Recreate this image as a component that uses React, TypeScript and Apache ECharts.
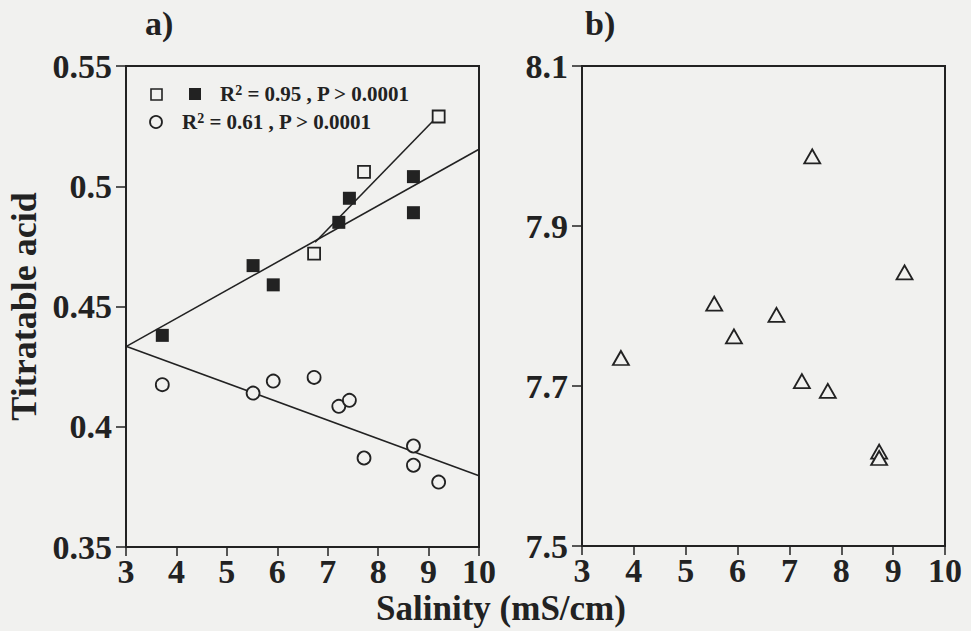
import React, { useEffect, useRef } from "react";
import * as echarts from "echarts";

// ---- data ----
const xFilledSq = [3.72, 5.52, 5.92, 7.22, 7.43, 8.7, 8.7];
const yFilledSq = [0.438, 0.467, 0.459, 0.485, 0.495, 0.504, 0.489];
const xOpenSq = [6.73, 7.72, 9.2];
const yOpenSq = [0.472, 0.506, 0.529];
const xCircle = [3.72, 5.52, 5.92, 6.73, 7.22, 7.43, 7.72, 8.7, 8.7, 9.2];
const yCircle = [0.4175, 0.414, 0.419, 0.4205, 0.4085, 0.411, 0.387, 0.392, 0.384, 0.377];
const xTri = [3.75, 5.55, 5.93, 6.75, 7.24, 7.44, 7.74, 8.73, 8.73, 9.22];
const yTri = [7.735, 7.803, 7.762, 7.789, 7.706, 7.987, 7.694, 7.618, 7.61, 7.842];

// fitted lines (endpoints)
const fitSquares = [[3, 0.4333], [10, 0.5154]];
const fitOpenSq = [[6.75, 0.4767], [9.15, 0.5285]];
const fitCircles = [[3, 0.4335], [10, 0.3796]];

const xTicks = { min: 3, max: 10, interval: 1 };
const yTicksA = { min: 0.35, max: 0.55, interval: 0.05 };
const yTicksB = { min: 7.5, max: 8.1, interval: 0.2 };

const legendLine1 = ["R", "2", " = 0.95 , P > 0.0001"];
const legendLine2 = ["R", "2", " = 0.61 , P > 0.0001"];
const xTitle = "Salinity (mS/cm)";
const yTitle = "Titratable acid";

const BG = "#f1f1ef";
const INK = "#222222";
const FONT = '"Liberation Serif", "Times New Roman", serif';

const zip = (xs: number[], ys: number[]) => xs.map((x, i) => [x, ys[i]]);

export default function App() {
  const ref = useRef<HTMLDivElement>(null);
  useEffect(() => {
    if (!ref.current) return;
    const chart = echarts.init(ref.current, undefined, { renderer: "svg" });
    const tickLabel = {
      fontFamily: FONT,
      fontWeight: "bold" as const,
      fontSize: 34,
      color: INK,
    };
    const mkX = (gridIndex: number) => ({
      type: "value" as const,
      gridIndex,
      ...xTicks,
      axisLine: { show: true, lineStyle: { color: INK, width: 2 } },
      axisTick: { show: true, length: 9, lineStyle: { color: INK, width: 1.5 } },
      axisLabel: { ...tickLabel, lineHeight: 26, margin: 11 },
      splitLine: { show: false },
    });
    const mkY = (gridIndex: number, t: any, digits: number) => ({
      type: "value" as const,
      gridIndex,
      ...t,
      axisLine: { show: true, lineStyle: { color: INK, width: 2 } },
      axisTick: { show: true, length: 10, lineStyle: { color: INK, width: 1.5 } },
      axisLabel: {
        ...tickLabel,
        lineHeight: 28,
        margin: 14,
        formatter: (v: number) => String(+v.toFixed(digits)),
      },
      splitLine: { show: false },
    });
    const lineStyle = { color: INK, width: 1.6 };
    const richSty = {
      b: { fontFamily: FONT, fontWeight: "bold", fontSize: 21, fill: INK },
      s: { fontFamily: FONT, fontWeight: "bold", fontSize: 14, fill: INK, verticalAlign: "top" },
    };
    const richText = (parts: string[]) => `{b|${parts[0]}}{s|${parts[1]}}{b|${parts[2]}}`;
    const openStyle = { color: BG, borderColor: INK, borderWidth: 1.8, opacity: 1 };

    chart.setOption({
      animation: false,
      backgroundColor: BG,
      grid: [
        { left: 126, top: 66, width: 353, height: 481, show: true, borderColor: INK, borderWidth: 2 },
        { left: 582, top: 66, width: 363, height: 480, show: true, borderColor: INK, borderWidth: 2 },
      ],
      xAxis: [mkX(0), mkX(1)],
      yAxis: [
        {
          ...mkY(0, yTicksA, 2),
          name: yTitle,
          nameLocation: "middle",
          nameGap: 84,
          nameRotate: 90,
          nameTextStyle: { fontFamily: FONT, fontWeight: "bold", fontSize: 36, color: INK },
        },
        mkY(1, yTicksB, 1),
      ],
      series: [
        { type: "line", xAxisIndex: 0, yAxisIndex: 0, data: fitSquares, symbol: "none", lineStyle, z: 1 },
        { type: "line", xAxisIndex: 0, yAxisIndex: 0, data: fitOpenSq, symbol: "none", lineStyle, z: 1 },
        { type: "line", xAxisIndex: 0, yAxisIndex: 0, data: fitCircles, symbol: "none", lineStyle, z: 1 },
        {
          type: "scatter", xAxisIndex: 0, yAxisIndex: 0, data: zip(xFilledSq, yFilledSq),
          symbol: "rect", symbolSize: 13, itemStyle: { color: INK, opacity: 1 }, z: 3,
        },
        {
          type: "scatter", xAxisIndex: 0, yAxisIndex: 0, data: zip(xOpenSq, yOpenSq),
          symbol: "rect", symbolSize: 12, itemStyle: openStyle, z: 3,
        },
        {
          type: "scatter", xAxisIndex: 0, yAxisIndex: 0, data: zip(xCircle, yCircle),
          symbol: "circle", symbolSize: 13, itemStyle: openStyle, z: 3,
        },
        {
          type: "scatter", xAxisIndex: 1, yAxisIndex: 1, data: zip(xTri, yTri),
          symbol: "triangle", symbolSize: [16, 14], itemStyle: openStyle, z: 3,
        },
      ],
      graphic: [
        { type: "text", left: 145, top: 6, style: { text: "a)", font: `bold 34px ${FONT}`, fill: INK } },
        { type: "text", left: 585, top: 6, style: { text: "b)", font: `bold 34px ${FONT}`, fill: INK } },
        {
          type: "text", x: 501, y: 608,
          style: {
            text: xTitle, font: `bold 35px ${FONT}`, fill: INK, align: "center",
            verticalAlign: "middle", lineHeight: 28,
          },
        },
        { type: "rect", shape: { x: 151, y: 89, width: 11, height: 11 }, style: { fill: BG, stroke: INK, lineWidth: 1.6 } },
        { type: "rect", shape: { x: 189, y: 88, width: 12, height: 12 }, style: { fill: INK } },
        { type: "circle", shape: { cx: 156, cy: 122, r: 6 }, style: { fill: BG, stroke: INK, lineWidth: 1.8 } },
        {
          type: "text", x: 220, y: 94,
          style: { text: richText(legendLine1), rich: richSty, verticalAlign: "middle", fill: INK },
        },
        {
          type: "text", x: 182, y: 122,
          style: { text: richText(legendLine2), rich: richSty, verticalAlign: "middle", fill: INK },
        },
      ],
    });
    return () => chart.dispose();
  }, []);
  return (
    <div
      ref={ref}
      style={{ position: "absolute", left: 0, top: 0, width: 971, height: 631 }}
    />
  );
}
